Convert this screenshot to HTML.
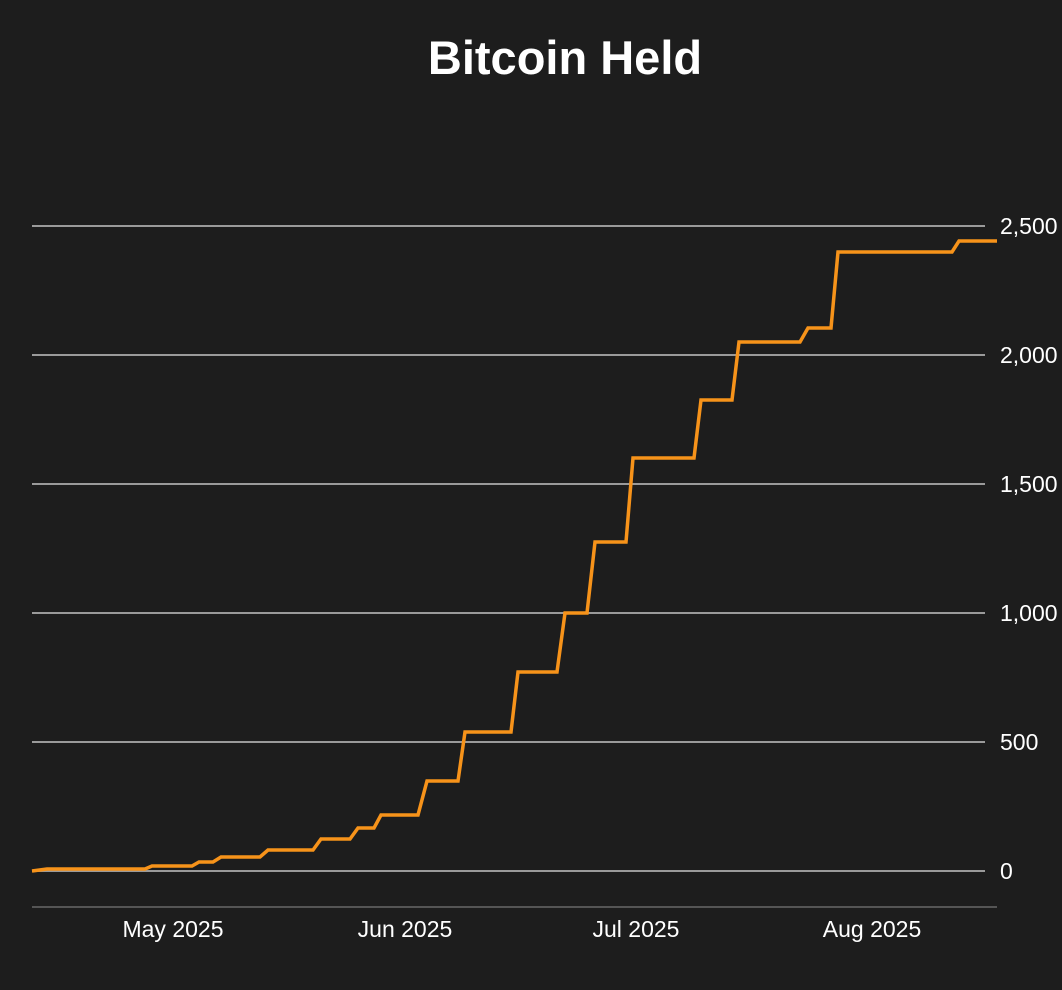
<!DOCTYPE html>
<html><head><meta charset="utf-8"><style>
html,body{margin:0;padding:0;background:#1d1d1d;}
svg{display:block}
text{font-family:"Liberation Sans",sans-serif;fill:#fff}
</style></head><body>
<svg width="1062" height="990" viewBox="0 0 1062 990">
<rect width="1062" height="990" fill="#1d1d1d"/>
<text x="565" y="74" text-anchor="middle" font-size="47" font-weight="bold">Bitcoin Held</text>
<g stroke="#9a9a9a" stroke-width="2">
<line x1="32" y1="226" x2="985" y2="226"/>
<line x1="32" y1="355" x2="985" y2="355"/>
<line x1="32" y1="484" x2="985" y2="484"/>
<line x1="32" y1="613" x2="985" y2="613"/>
<line x1="32" y1="742" x2="985" y2="742"/>
<line x1="32" y1="871" x2="985" y2="871"/>
</g>
<line x1="32" y1="907" x2="997" y2="907" stroke="#555" stroke-width="2"/>
<g font-size="23">
<text x="1000" y="234">2,500</text>
<text x="1000" y="363">2,000</text>
<text x="1000" y="492">1,500</text>
<text x="1000" y="621">1,000</text>
<text x="1000" y="750">500</text>
<text x="1000" y="879">0</text>
<text x="173" y="937" text-anchor="middle">May 2025</text>
<text x="405" y="937" text-anchor="middle">Jun 2025</text>
<text x="636" y="937" text-anchor="middle">Jul 2025</text>
<text x="872" y="937" text-anchor="middle">Aug 2025</text>
</g>
<polyline fill="none" stroke="#f7931a" stroke-width="3.5" stroke-linejoin="miter" points="32,871 47,869 145,869 152,866 192,866 199,862 213,862 221,857 260,857 268,850 313,850 321,839 350,839 358,828 374,828 381,815 418,815 427,781 458,781 465,732 511,732 518,672 557,672 565,613 587,613 595,542 626,542 633,458 694,458 701,400 732,400 739,342 800,342 808,328 831,328 838,252 952,252 959,241 997,241"/>
</svg>
</body></html>
